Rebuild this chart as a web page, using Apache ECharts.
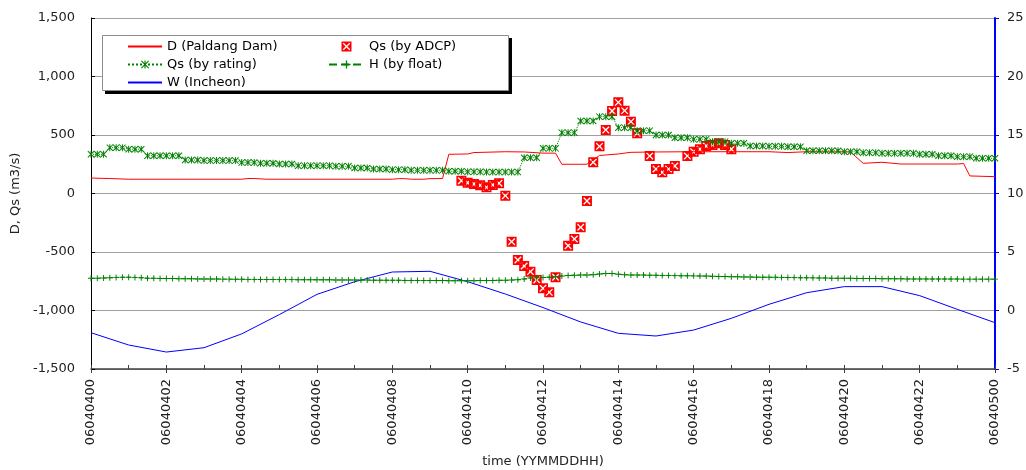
<!DOCTYPE html>
<html>
<head>
<meta charset="utf-8">
<script src="https://cdn.jsdelivr.net/npm/echarts/dist/echarts.min.js"></script>
<style>
html, body { margin: 0; padding: 0; background: #fff; }
#chart { width: 1026px; height: 470px; }
</style>
</head>
<body>
<div id="chart"></div>
<script>
// Axis tick labels (every 2 hours, YYMMDDHH)
const timeLabels = ['06040400', '06040402', '06040404', '06040406', '06040408', '06040410',
  '06040412', '06040414', '06040416', '06040418', '06040420', '06040422', '06040500'];

// D (Paldang Dam) discharge, m3/s
const damTime = ['00:00', '00:30', '01:00', '04:00', '04:10', '04:20', '04:40', '08:00', '08:10',
  '08:20', '08:30', '08:50', '09:00', '09:20', '09:30', '10:00', '10:10', '11:00', '11:30', '12:00',
  '12:20', '12:30', '13:10', '13:30', '14:00', '14:20', '15:00', '16:00', '18:00', '18:30', '19:00',
  '20:10', '20:30', '21:00', '21:30', '23:00', '23:10', '23:20', '24:00'];
const damFlow = [132, 128, 122, 122, 128, 128, 122, 122, 127,
  127, 122, 122, 127, 128, 335, 338, 350, 357, 355, 345,
  345, 250, 250, 325, 338, 352, 355, 357, 357, 350, 357,
  355, 258, 267, 252, 252, 256, 150, 144];

// Qs measured by ADCP, m3/s
const adcpTime = ['09:50', '10:00', '10:10', '10:20', '10:30', '10:40', '10:50',
  '11:00', '11:10', '11:20', '11:30', '11:40', '11:50', '12:00', '12:10', '12:20',
  '12:40', '12:50', '13:00', '13:10', '13:20', '13:30', '13:40', '13:50', '14:00', '14:10', '14:20', '14:30',
  '14:50', '15:00', '15:10', '15:20', '15:30',
  '15:50', '16:00', '16:10', '16:20', '16:30', '16:40', '16:50', '17:00'];
const adcpQs = [109, 92, 81, 70, 53, 73, 87,
  -19, -412, -568, -620, -668, -739, -810, -845, -716,
  -446, -389, -289, -64, 267, 403, 543, 705, 779, 708, 614, 515,
  321, 209, 181, 209, 235,
  321, 357, 378, 406, 415, 429, 415, 378];

// Qs by rating curve, every 10 minutes from 00:00 to 24:00, m3/s
const ratingQs = [
  335, 335, 335, 392, 392, 392,   // 00h
  378, 378, 378, 323, 323, 323,   // 01h
  323, 323, 323, 286, 286, 286,   // 02h
  281, 281, 281, 281, 281, 281,   // 03h
  264, 264, 264, 258, 258, 258,   // 04h
  252, 252, 252, 238, 238, 238,   // 05h
  238, 238, 238, 232, 232, 232,   // 06h
  218, 218, 218, 209, 209, 209,   // 07h
  204, 204, 204, 198, 198, 198,   // 08h
  198, 198, 198, 190, 190, 190,   // 09h
  185, 185, 185, 183, 183, 183,   // 10h
  183, 183, 183, 306, 306, 306,   // 11h
  386, 386, 386, 520, 520, 520,   // 12h
  620, 620, 620, 657, 657, 657,   // 13h
  563, 563, 563, 537, 537, 537,   // 14h
  500, 500, 500, 477, 477, 477,   // 15h
  463, 463, 463, 443, 443, 443,   // 16h
  429, 429, 429, 406, 406, 406,   // 17h
  403, 403, 403, 400, 400, 400,   // 18h
  366, 366, 366, 366, 366, 366,   // 19h
  357, 357, 357, 349, 349, 349,   // 20h
  343, 343, 343, 343, 343, 343,   // 21h
  335, 335, 335, 323, 323, 323,   // 22h
  315, 315, 315, 301, 301, 301,   // 23h
  301
];

// H by float, every 10 minutes, m
const floatH = [
  2.75, 2.76, 2.78, 2.80, 2.83, 2.84,   // 00h
  2.84, 2.83, 2.80, 2.76, 2.75, 2.74,   // 01h
  2.73, 2.73, 2.72, 2.72, 2.71, 2.70,   // 02h
  2.70, 2.69, 2.69, 2.68, 2.68, 2.67,   // 03h
  2.67, 2.66, 2.66, 2.65, 2.65, 2.65,   // 04h
  2.64, 2.64, 2.64, 2.63, 2.63, 2.63,   // 05h
  2.62, 2.62, 2.62, 2.61, 2.61, 2.61,   // 06h
  2.60, 2.60, 2.60, 2.59, 2.59, 2.59,   // 07h
  2.58, 2.58, 2.57, 2.57, 2.57, 2.56,   // 08h
  2.56, 2.56, 2.56, 2.55, 2.55, 2.55,   // 09h
  2.55, 2.55, 2.56, 2.56, 2.57, 2.58,   // 10h
  2.58, 2.60, 2.63, 2.70, 2.78, 2.80,   // 11h
  2.82, 2.85, 2.89, 2.95, 3.00, 3.02,   // 12h
  3.03, 3.04, 3.06, 3.12, 3.16, 3.17,   // 13h
  3.10, 3.06, 3.04, 3.03, 3.03, 3.02,   // 14h
  3.01, 3.00, 2.99, 2.98, 2.97, 2.97,   // 15h
  2.96, 2.95, 2.94, 2.92, 2.91, 2.90,   // 16h
  2.89, 2.88, 2.87, 2.86, 2.85, 2.85,   // 17h
  2.84, 2.84, 2.83, 2.82, 2.81, 2.80,   // 18h
  2.80, 2.79, 2.78, 2.77, 2.76, 2.76,   // 19h
  2.75, 2.75, 2.74, 2.74, 2.73, 2.73,   // 20h
  2.72, 2.72, 2.71, 2.71, 2.70, 2.70,   // 21h
  2.70, 2.70, 2.69, 2.69, 2.69, 2.69,   // 22h
  2.69, 2.68, 2.68, 2.68, 2.68, 2.68,   // 23h
  2.68
];

// W (Incheon) tide level, hourly from 00:00 to 24:00, m
const tideW = [-1.90, -2.95, -3.55, -3.18, -2.00, -0.35, 1.38, 2.46, 3.29, 3.35, 2.46, 1.41,
  0.25, -0.98, -1.95, -2.18, -1.67, -0.67, 0.53, 1.52, 2.04, 2.04, 1.27, 0.10, -1.04];

const FONT = 'DejaVu Sans';
const GREEN = '#008000';
const RED = '#ff0000';
const BLUE = '#0000ff';

function hoursOf(hhmm) {
  const p = hhmm.split(':');
  return Number(p[0]) + Number(p[1]) / 60;
}
function pairs(times, values) {
  return values.map((v, i) => [times[i], v]);
}
const tenMin = ratingQs.map((_, i) => i / 6);
const hourly = tideW.map((_, i) => i);

function commas(v) {
  const s = String(Math.abs(v)).replace(/\B(?=(\d{3})+(?!\d))/g, ',');
  return (v < 0 ? '-' : '') + s;
}

// Marker shapes: filled square with a cut-out cross, asterisk, plus
const adcpSymbol = 'path://M0 0L10 0L10 10L0 10Z ' +
  'M1.3 2.2L4.1 5L1.3 7.8L2.2 8.7L5 5.9L7.8 8.7L8.7 7.8L5.9 5L8.7 2.2L7.8 1.3L5 4.1L2.2 1.3Z';
const starSymbol = 'path://M4.3 0L5.7 0L5.7 10L4.3 10Z ' +
  'M1 0L10 9L9 10L0 1Z ' +
  'M9 0L10 1L1 10L0 9Z';
const plusSymbol = 'path://M4.2 0L5.8 0L5.8 10L4.2 10Z M0 4.2L10 4.2L10 5.8L0 5.8Z';

const chart = echarts.init(document.getElementById('chart'), null, { renderer: 'canvas' });

const legendText = { fontFamily: FONT, fontSize: 13, color: '#000' };

chart.setOption({
  animation: false,
  backgroundColor: '#fff',
  textStyle: { fontFamily: FONT },
  grid: { left: 91, right: 31, top: 18, bottom: 101, containLabel: false, outerBoundsMode: 'none' },
  graphic: [
    { type: 'rect', z: 5, silent: true, shape: { x: 105, y: 38, width: 407, height: 56 }, style: { fill: '#000' } },
    { type: 'rect', z: 6, silent: true, shape: { x: 102.5, y: 35.5, width: 406, height: 55 },
      style: { fill: '#fff', stroke: '#8c8c8c', lineWidth: 1 } }
  ],
  legend: [
    {
      z: 10, orient: 'vertical', left: 122, top: 35, itemWidth: 34, itemHeight: 10, itemGap: 5,
      selectedMode: false, textStyle: legendText,
      data: [
        { name: 'D (Paldang Dam)', itemStyle: { opacity: 0 } },
        { name: 'Qs (by rating)' },
        { name: 'W (Incheon)', itemStyle: { opacity: 0 } }
      ]
    },
    {
      z: 10, orient: 'vertical', left: 323, top: 35, itemWidth: 35, itemHeight: 10, itemGap: 5,
      selectedMode: false, textStyle: legendText,
      data: ['Qs (by ADCP)', 'H (by float)']
    }
  ],
  xAxis: [
    {
      type: 'value', min: 0, max: 24, interval: 2,
      name: 'time (YYMMDDHH)', nameLocation: 'middle', nameGap: 86,
      nameTextStyle: { fontFamily: FONT, fontSize: 13, color: '#222' },
      axisLine: { onZero: false, lineStyle: { color: '#404040', width: 1.5 } },
      axisTick: { show: true, inside: false, length: 4, lineStyle: { color: '#404040' } },
      splitLine: { show: false },
      axisLabel: {
        rotate: 90, margin: 10, fontFamily: FONT, fontSize: 13, color: '#222',
        showMinLabel: true, showMaxLabel: true, hideOverlap: false,
        formatter: v => timeLabels[Math.round(v / 2)]
      }
    },
    {
      type: 'value', min: 0, max: 24, interval: 1, position: 'bottom',
      axisLine: { show: false, onZero: false },
      axisTick: { show: true, inside: true, length: 4, lineStyle: { color: '#404040' } },
      axisLabel: { show: false },
      splitLine: { show: false }
    }
  ],
  yAxis: [
    {
      type: 'value', min: -1500, max: 1500, interval: 500, position: 'left',
      name: 'D, Qs (m3/s)', nameLocation: 'middle', nameGap: 65,
      nameTextStyle: { fontFamily: FONT, fontSize: 13, color: '#222' },
      axisLine: { show: true, onZero: false, lineStyle: { color: '#000', width: 1 } },
      axisTick: { show: true, inside: true, length: 4, lineStyle: { color: '#000' } },
      splitLine: { show: true, lineStyle: { color: '#a0a0a0', width: 1 } },
      axisLabel: { margin: 16, fontFamily: FONT, fontSize: 13, color: '#222', formatter: commas }
    },
    {
      type: 'value', min: -5, max: 25, interval: 5, position: 'right',
      axisLine: { show: true, onZero: false, lineStyle: { color: BLUE, width: 2 } },
      axisTick: { show: true, inside: false, length: 4, lineStyle: { color: BLUE } },
      splitLine: { show: false },
      axisLabel: { margin: 12, fontFamily: FONT, fontSize: 13, color: '#222' }
    }
  ],
  series: [
    {
      name: 'D (Paldang Dam)', type: 'line', yAxisIndex: 0,
      data: pairs(damTime.map(hoursOf), damFlow),
      symbol: 'none', lineStyle: { color: RED, width: 1 }, itemStyle: { color: RED },
      z: 2
    },
    {
      name: 'Qs (by ADCP)', type: 'scatter', yAxisIndex: 0,
      data: pairs(adcpTime.map(hoursOf), adcpQs),
      symbol: adcpSymbol, symbolSize: 10, itemStyle: { color: RED, opacity: 1, borderWidth: 0 },
      z: 3
    },
    {
      name: 'Qs (by rating)', type: 'line', yAxisIndex: 0,
      data: pairs(tenMin, ratingQs),
      symbol: starSymbol, symbolSize: 7, showSymbol: true, showAllSymbol: true,
      itemStyle: { color: GREEN },
      lineStyle: { color: GREEN, width: 1, type: 'dotted' },
      z: 4
    },
    {
      name: 'H (by float)', type: 'line', yAxisIndex: 1,
      data: pairs(tenMin, floatH),
      symbol: plusSymbol, symbolSize: 6, showSymbol: true, showAllSymbol: true,
      itemStyle: { color: GREEN },
      lineStyle: { color: GREEN, width: 1, type: 'dashed' },
      z: 4
    },
    {
      name: 'W (Incheon)', type: 'line', yAxisIndex: 1,
      data: pairs(hourly, tideW),
      symbol: 'none', lineStyle: { color: BLUE, width: 1 }, itemStyle: { color: BLUE },
      z: 3
    }
  ]
});
</script>
</body>
</html>
